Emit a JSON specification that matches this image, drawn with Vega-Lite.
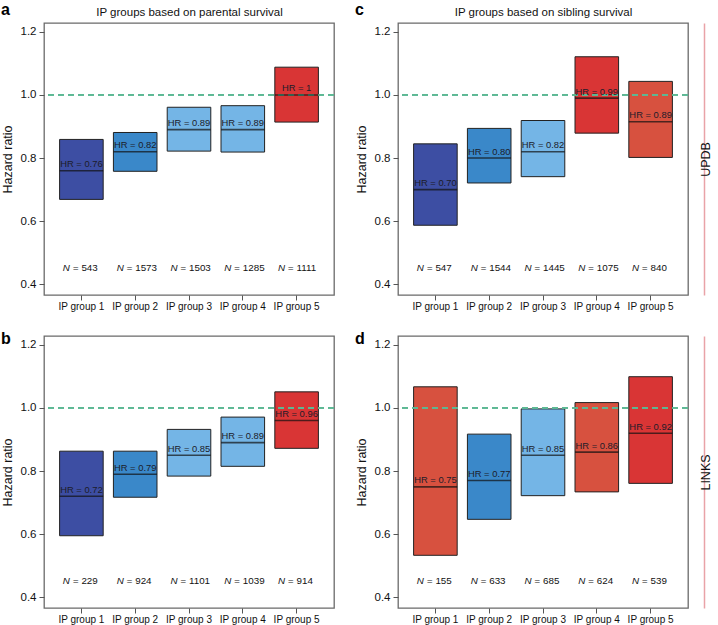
{
  "$schema": "https://vega.github.io/schema/vega-lite/v6.json",
  "padding": 0,
  "background": "white",
  "datasets": {
    "a": [
      {"group": "IP group 1", "hr": 0.76, "lo": 0.669, "hi": 0.859, "label": "HR = 0.76", "n": 543, "shade": "s1"},
      {"group": "IP group 2", "hr": 0.82, "lo": 0.758, "hi": 0.881, "label": "HR = 0.82", "n": 1573, "shade": "s2"},
      {"group": "IP group 3", "hr": 0.89, "lo": 0.822, "hi": 0.961, "label": "HR = 0.89", "n": 1503, "shade": "s3"},
      {"group": "IP group 4", "hr": 0.89, "lo": 0.819, "hi": 0.966, "label": "HR = 0.89", "n": 1285, "shade": "s3"},
      {"group": "IP group 5", "hr": 1.0, "lo": 0.914, "hi": 1.088, "label": "HR = 1", "n": 1111, "shade": "s5"}
    ],
    "b": [
      {"group": "IP group 1", "hr": 0.72, "lo": 0.595, "hi": 0.863, "label": "HR = 0.72", "n": 229, "shade": "s1"},
      {"group": "IP group 2", "hr": 0.79, "lo": 0.717, "hi": 0.863, "label": "HR = 0.79", "n": 924, "shade": "s2"},
      {"group": "IP group 3", "hr": 0.85, "lo": 0.784, "hi": 0.932, "label": "HR = 0.85", "n": 1101, "shade": "s3"},
      {"group": "IP group 4", "hr": 0.89, "lo": 0.815, "hi": 0.971, "label": "HR = 0.89", "n": 1039, "shade": "s3"},
      {"group": "IP group 5", "hr": 0.96, "lo": 0.872, "hi": 1.051, "label": "HR = 0.96", "n": 914, "shade": "s5"}
    ],
    "c": [
      {"group": "IP group 1", "hr": 0.70, "lo": 0.587, "hi": 0.845, "label": "HR = 0.70", "n": 547, "shade": "s1"},
      {"group": "IP group 2", "hr": 0.80, "lo": 0.721, "hi": 0.894, "label": "HR = 0.80", "n": 1544, "shade": "s2"},
      {"group": "IP group 3", "hr": 0.82, "lo": 0.741, "hi": 0.919, "label": "HR = 0.82", "n": 1445, "shade": "s3"},
      {"group": "IP group 4", "hr": 0.99, "lo": 0.879, "hi": 1.121, "label": "HR = 0.99", "n": 1075, "shade": "s5"},
      {"group": "IP group 5", "hr": 0.915, "lo": 0.802, "hi": 1.043, "label": "HR = 0.89", "n": 840, "shade": "s4"}
    ],
    "d": [
      {"group": "IP group 1", "hr": 0.75, "lo": 0.533, "hi": 1.067, "label": "HR = 0.75", "n": 155, "shade": "s4"},
      {"group": "IP group 2", "hr": 0.77, "lo": 0.647, "hi": 0.917, "label": "HR = 0.77", "n": 633, "shade": "s2"},
      {"group": "IP group 3", "hr": 0.85, "lo": 0.722, "hi": 0.997, "label": "HR = 0.85", "n": 685, "shade": "s3"},
      {"group": "IP group 4", "hr": 0.86, "lo": 0.734, "hi": 1.017, "label": "HR = 0.86", "n": 624, "shade": "s4"},
      {"group": "IP group 5", "hr": 0.92, "lo": 0.761, "hi": 1.099, "label": "HR = 0.92", "n": 539, "shade": "s5"}
    ]
  },
  "config": {
    "font": "Liberation Sans",
    "view": {"stroke": "#6a6a6a", "strokeWidth": 1.3},
    "axis": {"domain": false, "grid": false, "tickColor": "#555", "tickSize": 5, "tickWidth": 1, "labelColor": "#111", "titleColor": "#111", "titleFontWeight": "normal", "labelFont": "Liberation Sans", "titleFont": "Liberation Sans"},
    "title": {"font": "Liberation Sans"},
    "text": {"font": "Liberation Sans"}
  },
  "vconcat": [
    {
      "hconcat": [
        {
          "width": 290, "height": 272,
          "data": {"name": "a"},
          "title": {"text": "a", "anchor": "start", "frame": "bounds", "fontSize": 16, "fontWeight": "bold", "color": "#000", "offset": -11},
          "resolve": {"axis": {"x": "independent", "y": "independent"}},
          "layer": [
            {"mark": {"type": "bar", "stroke": "#222", "strokeWidth": 1},
             "encoding": {
               "x": {"field": "group", "type": "nominal", "sort": null, "scale": {"paddingInner": 0.19, "paddingOuter": 0.29}, "axis": {"title": null, "labelAngle": 0, "labelFontSize": 10, "labelPadding": 1}},
               "y": {"field": "lo", "type": "quantitative", "scale": {"domain": [0.366, 1.228], "nice": false, "zero": false}, "axis": {"values": [0.4, 0.6, 0.8, 1.0, 1.2], "format": ".1f", "title": "Hazard ratio", "labelFontSize": 11.5, "titleFontSize": 12.5, "labelPadding": 3, "titlePadding": 6}},
               "y2": {"field": "hi"},
               "color": {"field": "shade", "type": "nominal", "scale": {"domain": ["s1", "s2", "s3", "s4", "s5"], "range": ["#3D4EA3", "#3A88C9", "#74B5E6", "#D7513F", "#D93535"]}, "legend": null}
             }},
            {"mark": {"type": "rule", "color": "#5DB894", "strokeDash": [6, 4], "strokeWidth": 1.3},
             "encoding": {"y": {"datum": 1, "type": "quantitative", "axis": null}}},
            {"mark": {"type": "tick", "color": "#111", "thickness": 1.6, "size": 43.5},
             "encoding": {"x": {"field": "group", "type": "nominal", "sort": null, "axis": null}, "y": {"field": "hr", "type": "quantitative", "axis": null}}},
            {"mark": {"type": "text", "fontSize": 9.4, "color": "#1c1c2a", "dy": -6.5},
             "encoding": {"x": {"field": "group", "type": "nominal", "sort": null, "axis": null}, "y": {"field": "hr", "type": "quantitative", "axis": null}, "text": {"field": "label"}}},
            {"mark": {"type": "text", "text": "N =", "align": "right", "dx": -3, "fontSize": 9.8, "fontStyle": "italic", "color": "#111"},
             "encoding": {"x": {"field": "group", "type": "nominal", "sort": null, "axis": null}, "y": {"datum": 0.45, "type": "quantitative", "axis": null}}},
            {"mark": {"type": "text", "align": "left", "dx": 0, "fontSize": 9.8, "color": "#111"},
             "encoding": {"x": {"field": "group", "type": "nominal", "sort": null, "axis": {"orient": "top", "labels": false, "ticks": false, "domain": false, "title": "IP groups based on parental survival", "titleFontSize": 11.5, "titlePadding": 5.5}}, "y": {"datum": 0.45, "type": "quantitative", "axis": null}, "text": {"field": "n", "type": "quantitative", "format": "d"}}}
          ]
        },
        {
          "width": 290, "height": 272,
          "data": {"name": "c"},
          "title": {"text": "c", "anchor": "start", "frame": "bounds", "fontSize": 16, "fontWeight": "bold", "color": "#000", "offset": -11},
          "resolve": {"axis": {"x": "independent", "y": "independent"}},
          "layer": [
            {"mark": {"type": "bar", "stroke": "#222", "strokeWidth": 1},
             "encoding": {
               "x": {"field": "group", "type": "nominal", "sort": null, "scale": {"paddingInner": 0.19, "paddingOuter": 0.29}, "axis": {"title": null, "labelAngle": 0, "labelFontSize": 10, "labelPadding": 1}},
               "y": {"field": "lo", "type": "quantitative", "scale": {"domain": [0.366, 1.228], "nice": false, "zero": false}, "axis": {"values": [0.4, 0.6, 0.8, 1.0, 1.2], "format": ".1f", "title": "Hazard ratio", "labelFontSize": 11.5, "titleFontSize": 12.5, "labelPadding": 3, "titlePadding": 6}},
               "y2": {"field": "hi"},
               "color": {"field": "shade", "type": "nominal", "scale": {"domain": ["s1", "s2", "s3", "s4", "s5"], "range": ["#3D4EA3", "#3A88C9", "#74B5E6", "#D7513F", "#D93535"]}, "legend": null}
             }},
            {"mark": {"type": "rule", "color": "#5DB894", "strokeDash": [6, 4], "strokeWidth": 1.3},
             "encoding": {"y": {"datum": 1, "type": "quantitative", "axis": null}}},
            {"mark": {"type": "tick", "color": "#111", "thickness": 1.6, "size": 43.5},
             "encoding": {"x": {"field": "group", "type": "nominal", "sort": null, "axis": null}, "y": {"field": "hr", "type": "quantitative", "axis": null}}},
            {"mark": {"type": "text", "fontSize": 9.4, "color": "#1c1c2a", "dy": -6.5},
             "encoding": {"x": {"field": "group", "type": "nominal", "sort": null, "axis": null}, "y": {"field": "hr", "type": "quantitative", "axis": {"orient": "right", "labels": false, "ticks": false, "domain": true, "domainColor": "#E9A3A8", "domainWidth": 1.5, "offset": 16, "title": "UPDB", "titleAngle": 270, "titleFontSize": 12.5, "titlePadding": 8}}, "text": {"field": "label"}}},
            {"mark": {"type": "text", "text": "N =", "align": "right", "dx": -3, "fontSize": 9.8, "fontStyle": "italic", "color": "#111"},
             "encoding": {"x": {"field": "group", "type": "nominal", "sort": null, "axis": null}, "y": {"datum": 0.45, "type": "quantitative", "axis": null}}},
            {"mark": {"type": "text", "align": "left", "dx": 0, "fontSize": 9.8, "color": "#111"},
             "encoding": {"x": {"field": "group", "type": "nominal", "sort": null, "axis": {"orient": "top", "labels": false, "ticks": false, "domain": false, "title": "IP groups based on sibling survival", "titleFontSize": 11.5, "titlePadding": 5.5}}, "y": {"datum": 0.45, "type": "quantitative", "axis": null}, "text": {"field": "n", "type": "quantitative", "format": "d"}}}
          ]
        }
      ],
      "spacing": 18
    },
    {
      "hconcat": [
        {
          "width": 290, "height": 272,
          "data": {"name": "b"},
          "title": {"text": "b", "anchor": "start", "frame": "bounds", "fontSize": 16, "fontWeight": "bold", "color": "#000", "offset": -11},
          "resolve": {"axis": {"x": "independent", "y": "independent"}},
          "layer": [
            {"mark": {"type": "bar", "stroke": "#222", "strokeWidth": 1},
             "encoding": {
               "x": {"field": "group", "type": "nominal", "sort": null, "scale": {"paddingInner": 0.19, "paddingOuter": 0.29}, "axis": {"title": null, "labelAngle": 0, "labelFontSize": 10, "labelPadding": 1}},
               "y": {"field": "lo", "type": "quantitative", "scale": {"domain": [0.366, 1.228], "nice": false, "zero": false}, "axis": {"values": [0.4, 0.6, 0.8, 1.0, 1.2], "format": ".1f", "title": "Hazard ratio", "labelFontSize": 11.5, "titleFontSize": 12.5, "labelPadding": 3, "titlePadding": 6}},
               "y2": {"field": "hi"},
               "color": {"field": "shade", "type": "nominal", "scale": {"domain": ["s1", "s2", "s3", "s4", "s5"], "range": ["#3D4EA3", "#3A88C9", "#74B5E6", "#D7513F", "#D93535"]}, "legend": null}
             }},
            {"mark": {"type": "rule", "color": "#5DB894", "strokeDash": [6, 4], "strokeWidth": 1.3},
             "encoding": {"y": {"datum": 1, "type": "quantitative", "axis": null}}},
            {"mark": {"type": "tick", "color": "#111", "thickness": 1.6, "size": 43.5},
             "encoding": {"x": {"field": "group", "type": "nominal", "sort": null, "axis": null}, "y": {"field": "hr", "type": "quantitative", "axis": null}}},
            {"mark": {"type": "text", "fontSize": 9.4, "color": "#1c1c2a", "dy": -6.5},
             "encoding": {"x": {"field": "group", "type": "nominal", "sort": null, "axis": null}, "y": {"field": "hr", "type": "quantitative", "axis": null}, "text": {"field": "label"}}},
            {"mark": {"type": "text", "text": "N =", "align": "right", "dx": -3, "fontSize": 9.8, "fontStyle": "italic", "color": "#111"},
             "encoding": {"x": {"field": "group", "type": "nominal", "sort": null, "axis": null}, "y": {"datum": 0.45, "type": "quantitative", "axis": null}}},
            {"mark": {"type": "text", "align": "left", "dx": 0, "fontSize": 9.8, "color": "#111"},
             "encoding": {"x": {"field": "group", "type": "nominal", "sort": null, "axis": null}, "y": {"datum": 0.45, "type": "quantitative", "axis": null}, "text": {"field": "n", "type": "quantitative", "format": "d"}}}
          ]
        },
        {
          "width": 290, "height": 272,
          "data": {"name": "d"},
          "title": {"text": "d", "anchor": "start", "frame": "bounds", "fontSize": 16, "fontWeight": "bold", "color": "#000", "offset": -11},
          "resolve": {"axis": {"x": "independent", "y": "independent"}},
          "layer": [
            {"mark": {"type": "bar", "stroke": "#222", "strokeWidth": 1},
             "encoding": {
               "x": {"field": "group", "type": "nominal", "sort": null, "scale": {"paddingInner": 0.19, "paddingOuter": 0.29}, "axis": {"title": null, "labelAngle": 0, "labelFontSize": 10, "labelPadding": 1}},
               "y": {"field": "lo", "type": "quantitative", "scale": {"domain": [0.366, 1.228], "nice": false, "zero": false}, "axis": {"values": [0.4, 0.6, 0.8, 1.0, 1.2], "format": ".1f", "title": "Hazard ratio", "labelFontSize": 11.5, "titleFontSize": 12.5, "labelPadding": 3, "titlePadding": 6}},
               "y2": {"field": "hi"},
               "color": {"field": "shade", "type": "nominal", "scale": {"domain": ["s1", "s2", "s3", "s4", "s5"], "range": ["#3D4EA3", "#3A88C9", "#74B5E6", "#D7513F", "#D93535"]}, "legend": null}
             }},
            {"mark": {"type": "rule", "color": "#5DB894", "strokeDash": [6, 4], "strokeWidth": 1.3},
             "encoding": {"y": {"datum": 1, "type": "quantitative", "axis": null}}},
            {"mark": {"type": "tick", "color": "#111", "thickness": 1.6, "size": 43.5},
             "encoding": {"x": {"field": "group", "type": "nominal", "sort": null, "axis": null}, "y": {"field": "hr", "type": "quantitative", "axis": null}}},
            {"mark": {"type": "text", "fontSize": 9.4, "color": "#1c1c2a", "dy": -6.5},
             "encoding": {"x": {"field": "group", "type": "nominal", "sort": null, "axis": null}, "y": {"field": "hr", "type": "quantitative", "axis": {"orient": "right", "labels": false, "ticks": false, "domain": true, "domainColor": "#E9A3A8", "domainWidth": 1.5, "offset": 16, "title": "LINKS", "titleAngle": 270, "titleFontSize": 12.5, "titlePadding": 8}}, "text": {"field": "label"}}},
            {"mark": {"type": "text", "text": "N =", "align": "right", "dx": -3, "fontSize": 9.8, "fontStyle": "italic", "color": "#111"},
             "encoding": {"x": {"field": "group", "type": "nominal", "sort": null, "axis": null}, "y": {"datum": 0.45, "type": "quantitative", "axis": null}}},
            {"mark": {"type": "text", "align": "left", "dx": 0, "fontSize": 9.8, "color": "#111"},
             "encoding": {"x": {"field": "group", "type": "nominal", "sort": null, "axis": null}, "y": {"datum": 0.45, "type": "quantitative", "axis": null}, "text": {"field": "n", "type": "quantitative", "format": "d"}}}
          ]
        }
      ],
      "spacing": 18
    }
  ],
  "spacing": 18
}
